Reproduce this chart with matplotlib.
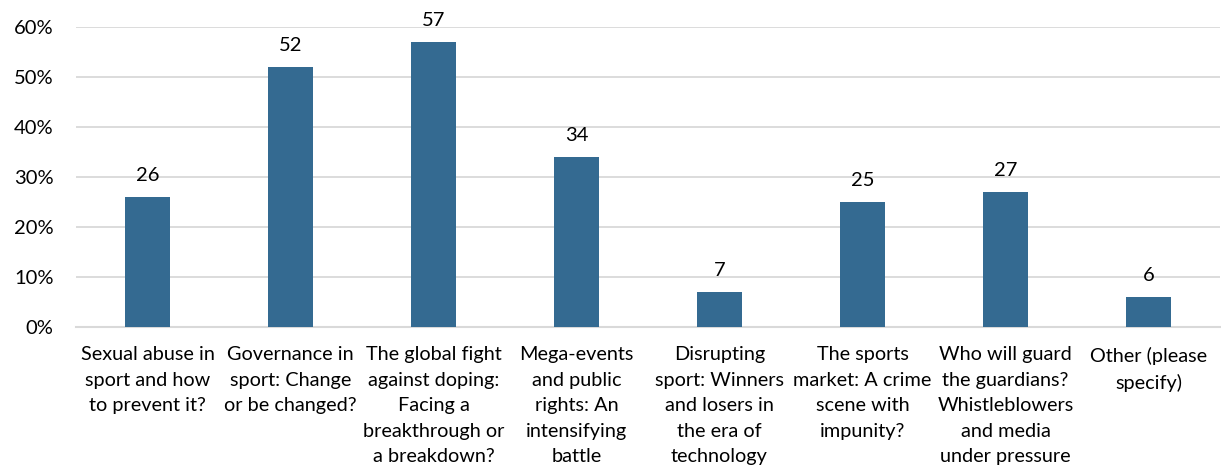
import numpy as np
import matplotlib.pyplot as plt

plt.rcParams['font.family'] = ['Lato', 'DejaVu Sans']

# survey topics and share of respondents (%)
topics = ["Sexual abuse in\nsport and how\nto prevent it?",
          "Governance in\nsport: Change\nor be changed?",
          "The global fight\nagainst doping:\nFacing a\nbreakthrough or\na breakdown?",
          "Mega-events\nand public\nrights: An\nintensifying\nbattle",
          "Disrupting\nsport: Winners\nand losers in\nthe era of\ntechnology",
          "The sports\nmarket: A crime\nscene with\nimpunity?",
          "Who will guard\nthe guardians?\nWhistleblowers\nand media\nunder pressure",
          "Other (please\nspecify)"]
values = [26, 52, 57, 34, 7, 25, 27, 6]
yticks = [0, 10, 20, 30, 40, 50, 60]

fig = plt.figure(figsize=(12.21, 4.71), dpi=100)
ax = fig.add_axes([0.0622, 0.3057, 0.9370, 0.637])

x = np.arange(len(values))
ax.bar(x, values, width=0.31, color='#346A91', zorder=3)

for xi, v in zip(x, values):
    ax.text(xi, v + 2.6, str(v), ha='center', va='bottom', fontsize=14.5)

ax.set_xlim(-0.5, len(values) - 0.5)
ax.set_ylim(0, 60)
ax.set_yticks(yticks)
ax.set_yticklabels([f'{t}%' for t in yticks], fontsize=14.5)
ax.set_xticks(x)
ax.set_xticklabels(topics, fontsize=14.3, linespacing=1.6, va='top')
ax.tick_params(axis='both', length=0)
ax.tick_params(axis='x', pad=14)
ax.tick_params(axis='y', pad=16)

ax.grid(axis='y', color='#D9D9D9', linewidth=1.3, zorder=0)
for s in ['top', 'right', 'left']:
    ax.spines[s].set_visible(False)
ax.spines['bottom'].set_color('#D9D9D9')
ax.spines['bottom'].set_linewidth(1.5)

plt.savefig('out.png', dpi=100)
